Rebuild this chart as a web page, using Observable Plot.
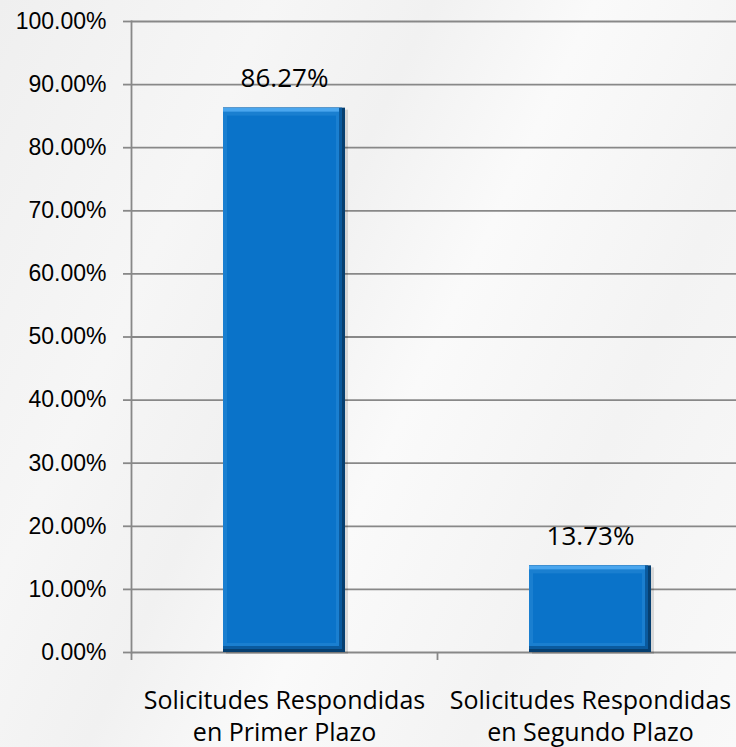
<!DOCTYPE html>
<html>
<head>
<meta charset="utf-8">
<script src="https://cdn.jsdelivr.net/npm/d3@7"></script>
<script src="https://cdn.jsdelivr.net/npm/@observablehq/plot@0.6"></script>
<style>
  html, body { margin: 0; padding: 0; }
  body {
    width: 736px; height: 747px; overflow: hidden;
    background: linear-gradient(115deg, #efefef 0%, #f6f6f6 25%, #f1f1f1 40%, #fafafa 55%, #f3f3f3 75%, #f9f9f9 100%);
  }
</style>
</head>
<body>
<div id="chart"></div>
<script>
const categories = ["Solicitudes Respondidas en Primer Plazo", "Solicitudes Respondidas en Segundo Plazo"];
const values = [0.8627, 0.1373];
const yTicks = [0, 0.1, 0.2, 0.3, 0.4, 0.5, 0.6, 0.7, 0.8, 0.9, 1.0];

const data = categories.map((c, i) => ({category: c, value: values[i]}));

const W = 736, H = 747;
const left = 131, right = 743;
const step = (right - left) / categories.length;
const fmt = d3.format(".2%");

const chart = Plot.plot({
  width: W,
  height: H,
  marginLeft: left,
  marginRight: 0,
  marginTop: 21,
  marginBottom: 95,
  style: {background: "transparent", overflow: "visible"},
  x: {domain: categories, range: [left, right], paddingInner: 0.6, paddingOuter: 0.3, axis: null, label: null},
  y: {domain: [0, 1], axis: null, label: null},
  marks: [
    // gridlines
    Plot.ruleY(yTicks, {stroke: "#888", strokeWidth: 1.8}),
    Plot.axisY({ticks: yTicks, tickFormat: fmt, tickSize: 8, tickPadding: 17, stroke: "#888", strokeWidth: 1.8,
      fontSize: 23, fontFamily: "Liberation Sans, Arial, sans-serif", fill: "#000", label: null}),
    // y axis line
    Plot.frame({anchor: "left", stroke: "#888", strokeWidth: 1.8}),
    // category boundary ticks
    Plot.ruleX(categories, {x: d => d, dx: -step / 2, y1: 0, y2: 0, insetBottom: -8, stroke: "#888", strokeWidth: 1.8}),
    // bar shadow
    Plot.barY(data, {x: "category", y: "value", fill: "#000", fillOpacity: 0.12, dx: 3, dy: 2}),
    // bevel: dark edge
    Plot.barY(data, {x: "category", y: "value", fill: "#063f70"}),
    Plot.barY(data, {x: "category", y: "value", fill: "#0a5a9e", insetRight: 3, insetBottom: 3}),
    // bevel: light top/left
    Plot.barY(data, {x: "category", y: "value", fill: "#4aa6ee", insetRight: 6, insetBottom: 6}),
    // left edge mid
    Plot.barY(data, {x: "category", y: "value", fill: "#1a7fd0", insetTop: 4, insetRight: 6, insetBottom: 6}),
    // face
    Plot.barY(data, {x: "category", y: "value", fill: "#0a73c9", insetTop: 8, insetLeft: 4, insetRight: 9, insetBottom: 9}),
    // data labels
    Plot.text(data, {x: "category", y: "value", text: d => fmt(d.value), dy: -29, fontSize: 26,
      fontFamily: "Open Sans, sans-serif", fill: "#000"}),
    // x labels
    Plot.axisX({tickSize: 0, tickPadding: 0, dy: 34, fontSize: 25, lineHeight: 1.28, label: null,
      fontFamily: "Open Sans, sans-serif", fill: "#000",
      tickFormat: d => d.replace(" en ", "\nen ")})
  ]
});
document.getElementById("chart").appendChild(chart);
</script>
</body>
</html>
